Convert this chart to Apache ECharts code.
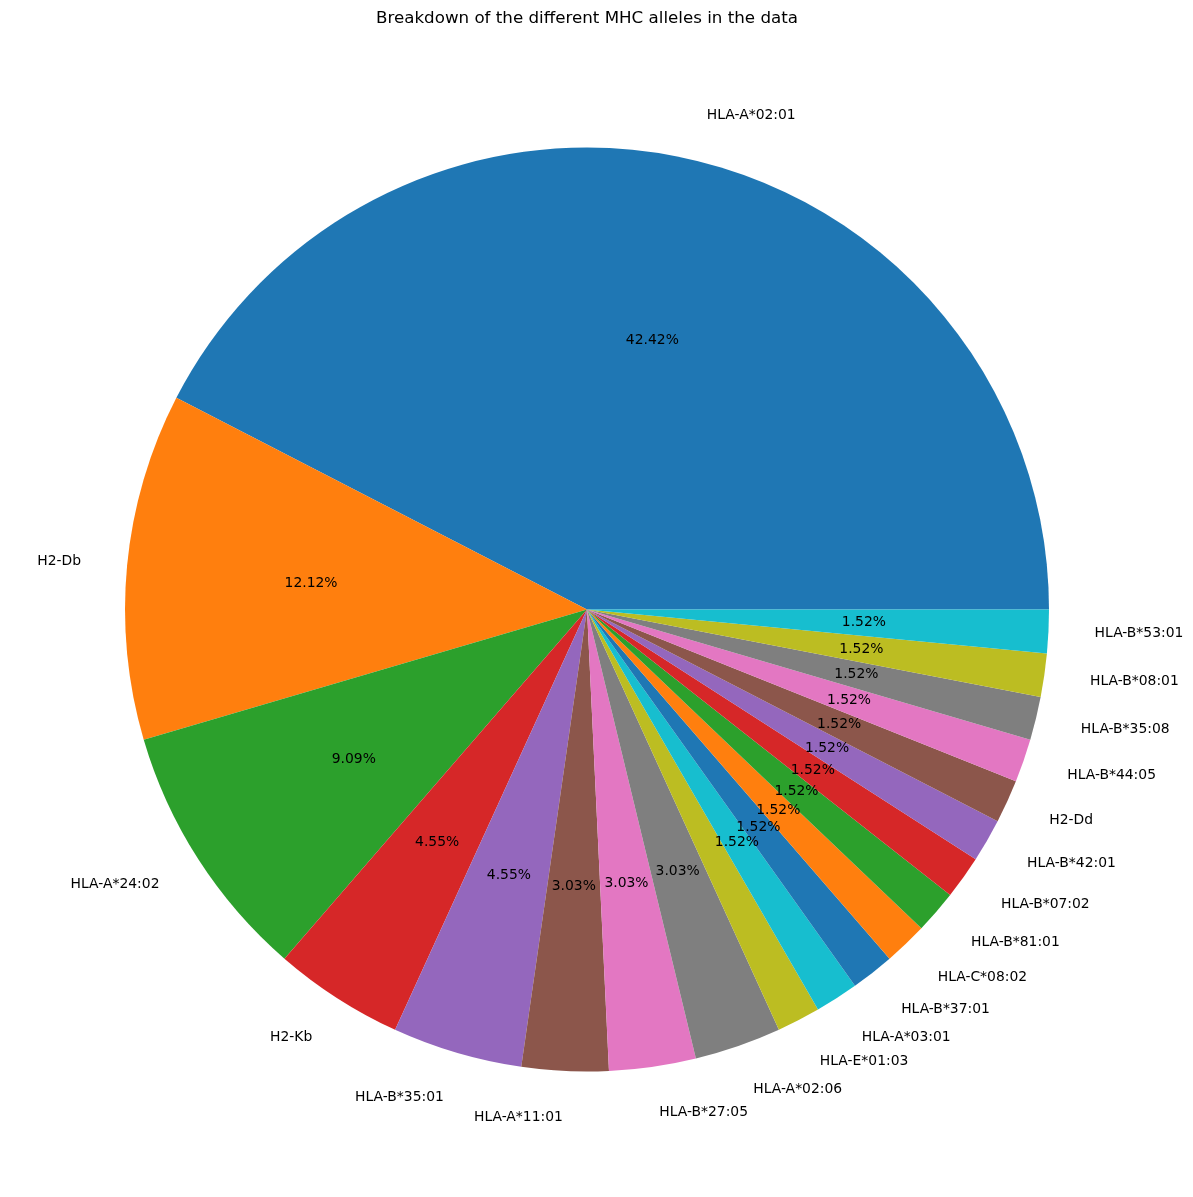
<!DOCTYPE html>
<html><head><meta charset="utf-8">
<script src="https://cdn.jsdelivr.net/npm/echarts@6/dist/echarts.min.js"></script>
<style>html,body{margin:0;padding:0;background:#fff}#c{width:1193px;height:1197px}</style>
</head><body><div id="c"></div>
<script>
const categories = ['HLA-A*02:01','H2-Db','HLA-A*24:02','H2-Kb','HLA-B*35:01','HLA-A*11:01','HLA-B*27:05','HLA-A*02:06','HLA-E*01:03','HLA-A*03:01','HLA-B*37:01','HLA-C*08:02','HLA-B*81:01','HLA-B*07:02','HLA-B*42:01','H2-Dd','HLA-B*44:05','HLA-B*35:08','HLA-B*08:01','HLA-B*53:01'];
const counts = [28,8,6,3,3,2,2,2,1,1,1,1,1,1,1,1,1,1,1,1];
const palette = ['#1f77b4','#ff7f0e','#2ca02c','#d62728','#9467bd','#8c564b','#e377c2','#7f7f7f','#bcbd22','#17becf'];
const titleText = 'Breakdown of the different MHC alleles in the data';

const total = counts.reduce((a,b)=>a+b,0);
const data = categories.map((n,i)=>({name:n,value:counts[i]}));
const R = 462;
const CENTER = [587,609.5];
const font = 'DejaVu Sans';
const chart = echarts.init(document.getElementById('c'));
chart.setOption({
  animation:false,
  color: palette,
  title:{text:titleText, left:582, top:5, textAlign:'center',
    textStyle:{fontFamily:font,fontSize:16.7,fontWeight:'normal',color:'#000'}},
  series:[
    {type:'pie', center:CENTER, radius:[0,R], startAngle:0, clockwise:false,
     avoidLabelOverlap:false, silent:true, data:data,
     itemStyle:{borderWidth:0},
     emphasis:{disabled:true},
     label:{show:true, position:'outside', formatter:'{b}', fontFamily:font, fontSize:13.9, color:'#000', distanceToLabelLine:0},
     labelLine:{show:false, length:0.1*R, length2:0}
    },
    {type:'pie', center:CENTER, radius:[0.2*R-6,R], startAngle:0, clockwise:false,
     avoidLabelOverlap:false, silent:true, data:data,
     itemStyle:{color:'rgba(0,0,0,0)', borderWidth:0},
     emphasis:{disabled:true},
     label:{show:true, position:'inside', formatter:p=>(p.value/total*100).toFixed(2)+'%', fontFamily:font, fontSize:13.9, color:'#000'},
     labelLine:{show:false}
    }
  ]
});
</script></body></html>
